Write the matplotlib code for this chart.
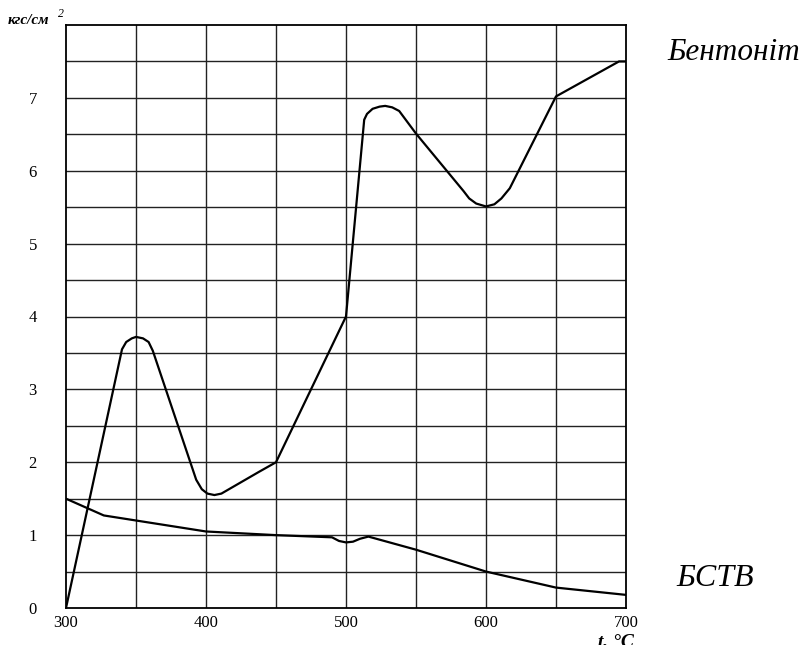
import matplotlib
matplotlib.use('Agg')
import matplotlib.pyplot as plt
import numpy as np

# Бентоніт curve (t, °C  ->  кгс/см2)
bent_t = [300, 340, 343, 347, 350, 355, 359, 362, 393, 397, 401, 406, 411,
          438, 450, 500, 513, 515, 519, 524, 528, 533, 538, 550, 584, 588,
          593, 600, 606, 611, 617, 650, 695, 700]
bent_p = [0.0, 3.55, 3.65, 3.70, 3.72, 3.70, 3.65, 3.53, 1.76, 1.63, 1.57,
          1.55, 1.57, 1.87, 2.0, 4.0, 6.70, 6.78, 6.85, 6.88, 6.89, 6.87,
          6.82, 6.51, 5.72, 5.62, 5.55, 5.51, 5.54, 5.62, 5.76, 7.02, 7.5, 7.5]

# БСТВ curve
bstv_t = [300, 327, 400, 450, 490, 495, 500, 505, 510, 516, 550, 600, 650, 700]
bstv_p = [1.5, 1.27, 1.05, 1.0, 0.97, 0.92, 0.90, 0.91, 0.95, 0.98, 0.80,
          0.50, 0.28, 0.18]

x_ticks = [300, 400, 500, 600, 700]
y_ticks = [0, 1, 2, 3, 4, 5, 6, 7]

#=====================================================

def main():
    plt.rcParams['font.family'] = ['Liberation Serif', 'DejaVu Serif']

    fig = plt.figure(figsize=(8.05, 6.45), dpi=100)
    W, H = 805, 645
    ax = fig.add_axes([66 / W, (H - 608) / H, (626 - 66) / W, (608 - 25) / H])

    # grid every 50 deg / 0.5 units
    for xv in np.arange(350, 700, 50):
        ax.axvline(xv, color='#222222', lw=1.0, zorder=1)
    for yv in np.arange(0.5, 8.0, 0.5):
        ax.axhline(yv, color='#222222', lw=1.0, zorder=1)

    ax.plot(bent_t, bent_p, color='black', lw=1.6, solid_joinstyle='round', zorder=3)
    ax.plot(bstv_t, bstv_p, color='black', lw=1.6, solid_joinstyle='round', zorder=3)

    ax.set_xlim(300, 700)
    ax.set_ylim(0, 8)
    for s in ax.spines.values():
        s.set_color('black')
        s.set_linewidth(1.3)

    ax.set_xticks(x_ticks)
    ax.set_yticks(y_ticks)
    ax.tick_params(length=0, labelsize=12)
    ax.tick_params(axis='y', pad=21)
    ax.tick_params(axis='x', pad=5)

    fig.text(8 / W, 1 - 21 / H, 'кгс/см', fontsize=11, style='italic',
             weight='bold', va='center', ha='left')
    fig.text(58 / W, 1 - 14 / H, '2', fontsize=8.5, style='italic',
             va='center', ha='left')

    fig.text(667 / W, 1 - 53 / H, 'Бентоніт', fontsize=22.5, style='italic',
             va='center', ha='left')
    fig.text(676 / W, 1 - 579 / H, 'БСТВ', fontsize=23, style='italic',
             va='center', ha='left')

    fig.text(598 / W, 1 - 633 / H, 't, °C', fontsize=14, style='italic',
             weight='bold', va='top', ha='left')

    fig.savefig('out.png', dpi=100)

#=====================================================

if __name__ == '__main__':
    main()
